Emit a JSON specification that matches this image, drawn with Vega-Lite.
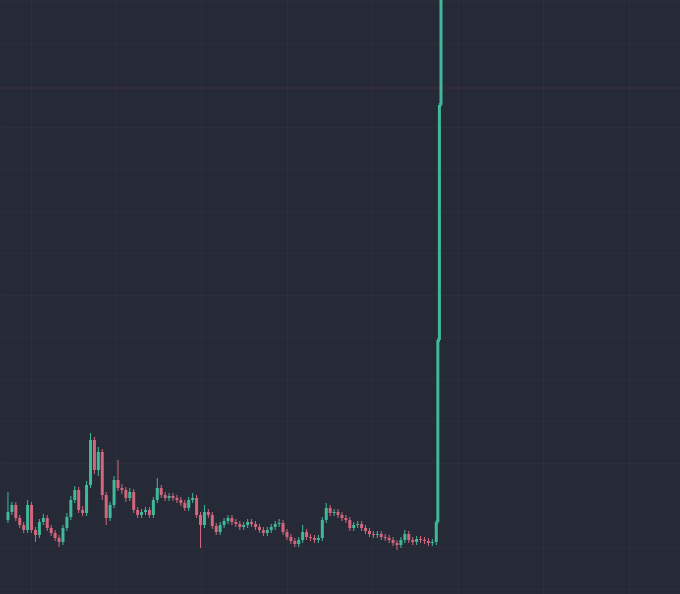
{
  "$schema": "https://vega.github.io/schema/vega-lite/v6.json",
  "width": 680,
  "height": 594,
  "autosize": {"type": "fit", "contains": "padding"},
  "padding": 0,
  "background": "#262a36",
  "config": {"view": {"stroke": null}},
  "data": {"values": [
    {"t":0.5,"o":74,"h":102,"l":71,"c":82},
    {"t":1.5,"o":82,"h":92,"l":79,"c":89},
    {"t":2.5,"o":89,"h":92,"l":73,"c":76},
    {"t":3.5,"o":76,"h":79,"l":66,"c":69},
    {"t":4.5,"o":69,"h":72,"l":61,"c":64},
    {"t":5.5,"o":64,"h":94,"l":61,"c":89},
    {"t":6.5,"o":89,"h":92,"l":61,"c":64},
    {"t":7.5,"o":64,"h":67,"l":52,"c":59},
    {"t":8.5,"o":59,"h":75,"l":56,"c":72},
    {"t":9.5,"o":72,"h":80,"l":69,"c":76},
    {"t":10.5,"o":76,"h":79,"l":63,"c":66},
    {"t":11.5,"o":66,"h":69,"l":58,"c":61},
    {"t":12.5,"o":61,"h":64,"l":53,"c":56},
    {"t":13.5,"o":56,"h":59,"l":47,"c":52},
    {"t":14.5,"o":52,"h":69,"l":49,"c":66},
    {"t":15.5,"o":66,"h":81,"l":63,"c":77},
    {"t":16.5,"o":77,"h":98,"l":74,"c":94},
    {"t":17.5,"o":94,"h":108,"l":91,"c":104},
    {"t":18.5,"o":104,"h":107,"l":81,"c":84},
    {"t":19.5,"o":84,"h":88,"l":78,"c":81},
    {"t":20.5,"o":81,"h":113,"l":78,"c":109},
    {"t":21.5,"o":109,"h":161,"l":106,"c":154},
    {"t":22.5,"o":154,"h":157,"l":120,"c":124},
    {"t":23.5,"o":124,"h":147,"l":118,"c":142},
    {"t":24.5,"o":142,"h":145,"l":94,"c":99},
    {"t":25.5,"o":99,"h":102,"l":69,"c":76},
    {"t":26.5,"o":76,"h":92,"l":73,"c":89},
    {"t":27.5,"o":89,"h":118,"l":86,"c":114},
    {"t":28.5,"o":114,"h":134,"l":103,"c":106},
    {"t":29.5,"o":106,"h":110,"l":100,"c":104},
    {"t":30.5,"o":104,"h":107,"l":92,"c":96},
    {"t":31.5,"o":96,"h":106,"l":93,"c":102},
    {"t":32.5,"o":102,"h":105,"l":81,"c":84},
    {"t":33.5,"o":84,"h":87,"l":76,"c":79},
    {"t":34.5,"o":79,"h":85,"l":76,"c":82},
    {"t":35.5,"o":82,"h":87,"l":79,"c":84},
    {"t":36.5,"o":84,"h":87,"l":76,"c":79},
    {"t":37.5,"o":79,"h":97,"l":76,"c":94},
    {"t":38.5,"o":94,"h":116,"l":91,"c":106},
    {"t":39.5,"o":106,"h":109,"l":96,"c":99},
    {"t":40.5,"o":99,"h":102,"l":93,"c":96},
    {"t":41.5,"o":96,"h":101,"l":93,"c":98},
    {"t":42.5,"o":98,"h":101,"l":93,"c":96},
    {"t":43.5,"o":96,"h":99,"l":91,"c":94},
    {"t":44.5,"o":94,"h":97,"l":88,"c":91},
    {"t":45.5,"o":91,"h":94,"l":83,"c":86},
    {"t":46.5,"o":86,"h":97,"l":83,"c":94},
    {"t":47.5,"o":94,"h":101,"l":91,"c":96},
    {"t":48.5,"o":96,"h":99,"l":76,"c":79},
    {"t":49.5,"o":79,"h":82,"l":46,"c":69},
    {"t":50.5,"o":69,"h":89,"l":66,"c":82},
    {"t":51.5,"o":82,"h":85,"l":76,"c":79},
    {"t":52.5,"o":79,"h":82,"l":65,"c":68},
    {"t":53.5,"o":68,"h":71,"l":59,"c":62},
    {"t":54.5,"o":62,"h":72,"l":59,"c":69},
    {"t":55.5,"o":69,"h":76,"l":66,"c":73},
    {"t":56.5,"o":73,"h":79,"l":70,"c":76},
    {"t":57.5,"o":76,"h":79,"l":69,"c":72},
    {"t":58.5,"o":72,"h":75,"l":67,"c":70},
    {"t":59.5,"o":70,"h":73,"l":64,"c":67},
    {"t":60.5,"o":67,"h":72,"l":64,"c":69},
    {"t":61.5,"o":69,"h":75,"l":66,"c":72},
    {"t":62.5,"o":72,"h":75,"l":67,"c":70},
    {"t":63.5,"o":70,"h":73,"l":64,"c":67},
    {"t":64.5,"o":67,"h":70,"l":61,"c":64},
    {"t":65.5,"o":64,"h":67,"l":58,"c":61},
    {"t":66.5,"o":61,"h":67,"l":58,"c":64},
    {"t":67.5,"o":64,"h":70,"l":61,"c":67},
    {"t":68.5,"o":67,"h":73,"l":64,"c":70},
    {"t":69.5,"o":70,"h":75,"l":67,"c":71},
    {"t":70.5,"o":71,"h":74,"l":59,"c":62},
    {"t":71.5,"o":62,"h":65,"l":54,"c":57},
    {"t":72.5,"o":57,"h":60,"l":50,"c":53},
    {"t":73.5,"o":53,"h":56,"l":47,"c":50},
    {"t":74.5,"o":50,"h":57,"l":47,"c":54},
    {"t":75.5,"o":54,"h":69,"l":51,"c":62},
    {"t":76.5,"o":62,"h":65,"l":54,"c":57},
    {"t":77.5,"o":57,"h":60,"l":53,"c":56},
    {"t":78.5,"o":56,"h":59,"l":51,"c":54},
    {"t":79.5,"o":54,"h":59,"l":51,"c":56},
    {"t":80.5,"o":56,"h":77,"l":53,"c":74},
    {"t":81.5,"o":74,"h":91,"l":71,"c":86},
    {"t":82.5,"o":86,"h":89,"l":78,"c":81},
    {"t":83.5,"o":81,"h":85,"l":78,"c":82},
    {"t":84.5,"o":82,"h":85,"l":76,"c":79},
    {"t":85.5,"o":79,"h":82,"l":73,"c":76},
    {"t":86.5,"o":76,"h":79,"l":71,"c":74},
    {"t":87.5,"o":74,"h":77,"l":63,"c":66},
    {"t":88.5,"o":66,"h":72,"l":63,"c":69},
    {"t":89.5,"o":69,"h":73,"l":66,"c":70},
    {"t":90.5,"o":70,"h":73,"l":63,"c":66},
    {"t":91.5,"o":66,"h":69,"l":60,"c":63},
    {"t":92.5,"o":63,"h":66,"l":57,"c":60},
    {"t":93.5,"o":60,"h":63,"l":56,"c":59},
    {"t":94.5,"o":59,"h":63,"l":56,"c":60},
    {"t":95.5,"o":60,"h":63,"l":54,"c":57},
    {"t":96.5,"o":57,"h":60,"l":53,"c":56},
    {"t":97.5,"o":56,"h":59,"l":51,"c":54},
    {"t":98.5,"o":54,"h":57,"l":48,"c":51},
    {"t":99.5,"o":51,"h":54,"l":44,"c":49},
    {"t":100.5,"o":49,"h":57,"l":46,"c":54},
    {"t":101.5,"o":54,"h":64,"l":51,"c":60},
    {"t":102.5,"o":60,"h":63,"l":51,"c":54},
    {"t":103.5,"o":54,"h":57,"l":49,"c":52},
    {"t":104.5,"o":52,"h":58,"l":49,"c":55},
    {"t":105.5,"o":55,"h":58,"l":51,"c":54},
    {"t":106.5,"o":54,"h":57,"l":50,"c":53},
    {"t":107.5,"o":53,"h":56,"l":48,"c":51},
    {"t":108.5,"o":51,"h":55,"l":48,"c":52},
    {"t":109.5,"o":52,"h":74,"l":49,"c":72},
    {"t":109.9,"o":72,"h":256,"l":70,"c":254},
    {"t":110.3,"o":254,"h":491,"l":252,"c":489},
    {"t":110.7,"o":489,"h":660,"l":487,"c":654}
  ]},
  "encoding": {
    "x": {"field": "t", "type": "quantitative",
      "scale": {"domain": [0, 170], "nice": false, "zero": false},
      "axis": {"title": null, "labels": false, "ticks": false, "domain": false,
        "grid": true, "gridColor": "#2d303c", "gridWidth": 1,
        "values": [6.25, 28, 49.75, 71.5, 93.25, 115, 136.75, 158.5]}}
  },
  "layer": [
    {
      "data": {"values": [{"p": 506}]},
      "mark": {"type": "rule", "strokeWidth": 1.5, "color": "#3a2c3b"},
      "encoding": {"y": {"field": "p", "type": "quantitative"}, "x": null}
    },
    {
      "mark": {"type": "rule", "strokeWidth": 1, "clip": true},
      "encoding": {
        "y": {"field": "l", "type": "quantitative",
          "scale": {"domain": [0, 594], "nice": false, "zero": false},
          "axis": {"title": null, "labels": false, "ticks": false, "domain": false,
            "grid": true, "gridColor": "#2c2f3b", "gridWidth": 1,
            "values": [5, 47, 131, 173, 215, 257, 299, 341, 383, 425, 467, 551, 593]}},
        "y2": {"field": "h"},
        "color": {"condition": {"test": "datum.c >= datum.o", "value": "#40b99b"}, "value": "#d3667d"}
      }
    },
    {
      "mark": {"type": "bar", "size": 3, "clip": true},
      "encoding": {
        "y": {"field": "o", "type": "quantitative"},
        "y2": {"field": "c"},
        "color": {"condition": {"test": "datum.c >= datum.o", "value": "#40b99b"}, "value": "#d3667d"}
      }
    }
  ]
}
